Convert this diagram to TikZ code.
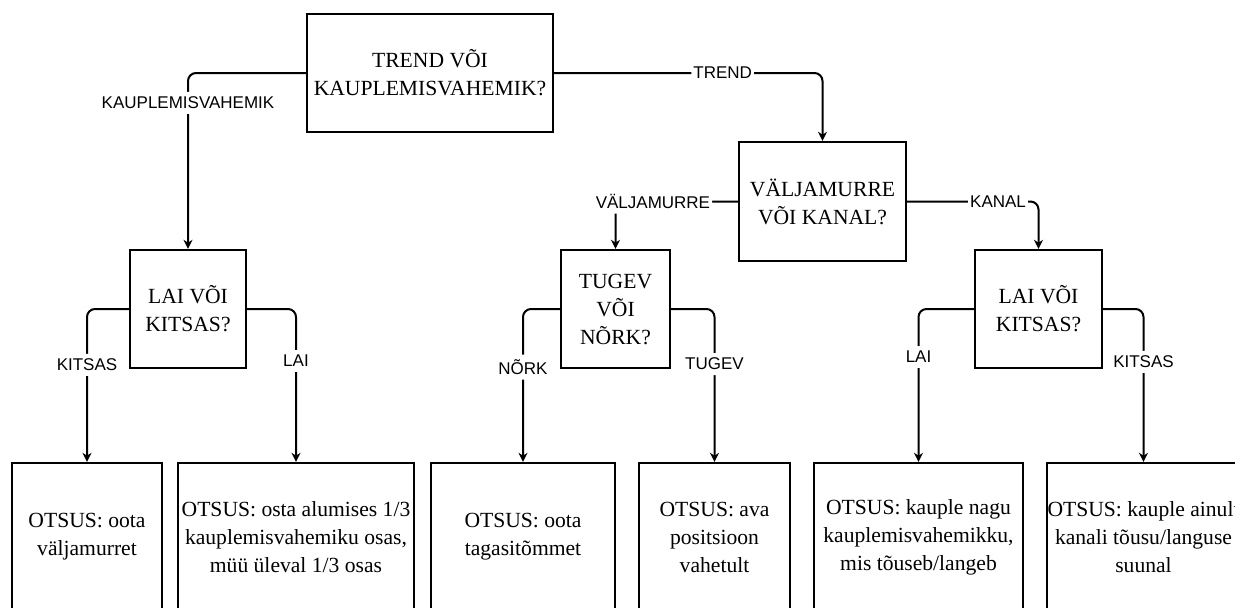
\documentclass[tikz,border=0pt]{standalone}
\usepackage{fontspec}
\setmainfont{Liberation Serif}
\setsansfont{Liberation Sans}
\usetikzlibrary{arrows.meta}

\begin{document}
\begin{tikzpicture}[x=0.5pt,y=-0.5pt,
		box/.style={draw,line width=1.2pt,inner sep=0pt,align=center,font=\fontsize{10.8}{14}\selectfont},
		edge/.style={line width=1pt,rounded corners=4pt,-{Stealth[length=4.5pt,width=4.5pt]}},
		lbl/.style={fill=white,inner xsep=1pt,inner ysep=2.5pt,font=\sffamily\fontsize{8.5}{10}\selectfont}]
				\useasboundingbox (0,0) rectangle (1235,607);
				\clip (0,0) rectangle (1235,607);
				
				\node[box,minimum width=123pt,minimum height=59pt] (q1) at (430,73) {TREND VÕI\\KAUPLEMISVAHEMIK?};
				\node[box,minimum width=83.5pt,minimum height=59.5pt] (q2) at (822.5,201.5) {VÄLJAMURRE\\VÕI KANAL?};
				
				\node[box,minimum width=58pt,minimum height=59pt] (lai1) at (188,309) {LAI VÕI\\KITSAS?};
				\node[box,minimum width=54.5pt,minimum height=59pt] (tug) at (615.5,309) {TUGEV\\VÕI\\NÕRK?};
				\node[box,minimum width=63.5pt,minimum height=59pt] (lai2) at (1038.5,309) {LAI VÕI\\KITSAS?};
				
				\node[box,minimum width=75pt,minimum height=74pt] (d1) at (87,537) {OTSUS: oota\\väljamurret};
				\node[box,minimum width=118pt,minimum height=74pt] (d2) at (296,537) {OTSUS: osta alumises 1/3\\kauplemisvahemiku osas,\\müü üleval 1/3 osas};
				\node[box,minimum width=92pt,minimum height=74pt] (d3) at (523,537) {OTSUS: oota\\tagasitõmmet};
				\node[box,minimum width=75.5pt,minimum height=74pt] (d4) at (714.5,537) {OTSUS: ava\\positsioon\\vahetult};
				\node[box,minimum width=104.5pt,minimum height=74pt] (d5) at (918.5,537) {OTSUS: kauple nagu\\kauplemisvahemikku,\\mis tõuseb/langeb};
				\node[box,minimum width=96.5pt,minimum height=74pt] (d6) at (1143.5,537) {OTSUS: kauple ainult\\kanali tõusu/languse\\suunal};
				
				\draw[edge] (q1.west) -| node[lbl,pos=0.585] {KAUPLEMISVAHEMIK} (lai1.north);
				\draw[edge] (q1.east) -| node[lbl,pos=0.314] {TREND} (q2.north);
				\draw[edge] (q2.west) -| node[lbl,pos=0.347] {VÄLJAMURRE} (tug.north);
				\draw[edge] (q2.east) -| node[lbl,pos=0.346] {KANAL} (lai2.north);
				
				\draw[edge] (lai1.west) -| node[lbl,pos=0.683] {KITSAS} (d1.north);
				\draw[edge] (lai1.east) -| node[lbl,pos=0.67] {LAI} (d2.north);
				\draw[edge] (tug.west) -| node[lbl,pos=0.69] {NÕRK} (d3.north);
				\draw[edge] (tug.east) -| node[lbl,pos=0.68] {TUGEV} (d4.north);
				\draw[edge] (lai2.west) -| node[lbl,pos=0.657] {LAI} (d5.north);
				\draw[edge] (lai2.east) -| node[lbl,pos=0.673] {KITSAS} (d6.north);
			\end{tikzpicture}
\end{document}
